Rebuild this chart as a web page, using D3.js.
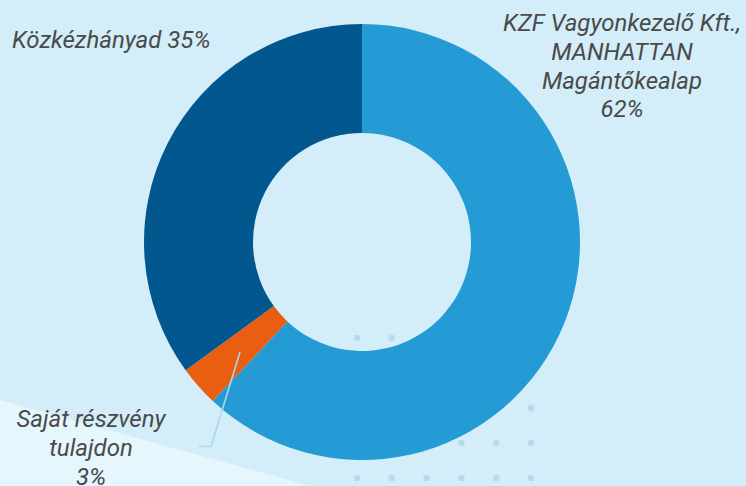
<!DOCTYPE html>
<html><head><meta charset="utf-8">
<script src="https://cdn.jsdelivr.net/npm/d3@7"></script>
<style>
html,body{margin:0;padding:0;background:#d3edf9;}
svg{display:block;}
text{font-family:Roboto,"Noto Sans",sans-serif;font-style:italic;fill:#4a4a4a;}
</style></head>
<body>
<svg id="chart" width="746" height="486"></svg>
<script>
const categories = ["KZF Vagyonkezelő Kft., MANHATTAN Magántőkealap", "Saját részvény tulajdon", "Közkézhányad"];
const values = [62, 3, 35];
const labelLines = [
  ["KZF Vagyonkezelő Kft.,", "MANHATTAN", "Magántőkealap", "62%"],
  ["Saját részvény", "tulajdon", "3%"],
  ["Közkézhányad 35%"]
];
const colors = ["#259bd5", "#e95e10", "#03578f"];

const W = 746, H = 486;
const svg = d3.select("#chart");

// background
svg.append("rect").attr("width", W).attr("height", H).attr("fill", "#d3edf9");
svg.append("path").attr("d", "M0,400 L310,486 L0,486 Z").attr("fill", "#e6f6fd");

// dots pattern
const dotG = svg.append("g");
for (let r = 0; r < 5; r++) {
  for (let c = 0; c < 6; c++) {
    dotG.append("circle").attr("cx", 357 + c * 34.8).attr("cy", 338 + r * 35)
      .attr("r", 3.2).attr("fill", "#b4dcf1");
  }
}

const cx = 362, cy = 242, R = 218, r0 = 109;
const pie = d3.pie().sort(null).value(d => d);
const arc = d3.arc().innerRadius(r0).outerRadius(R);
const g = svg.append("g").attr("transform", `translate(${cx},${cy})`);
g.selectAll("path").data(pie(values)).join("path")
  .attr("d", arc).attr("fill", (d, i) => colors[i]);

// leader line for small slice
svg.append("path").attr("d", "M240,352 L211,446.5 L199,446.5")
  .attr("fill", "none").attr("stroke", "#a8d8f1").attr("stroke-width", 1.6);

const fs = 24;
function label(lines, x, y0, anchor) {
  const t = svg.append("text").attr("text-anchor", anchor).attr("font-size", fs);
  lines.forEach((l, i) => t.append("tspan").attr("x", x).attr("y", y0 + i * 28.8).text(l));
}
label(labelLines[0], 622, 31, "middle");
label(labelLines[1], 91, 427, "middle");
label(labelLines[2], 12, 47.5, "start");
</script>
</body></html>
